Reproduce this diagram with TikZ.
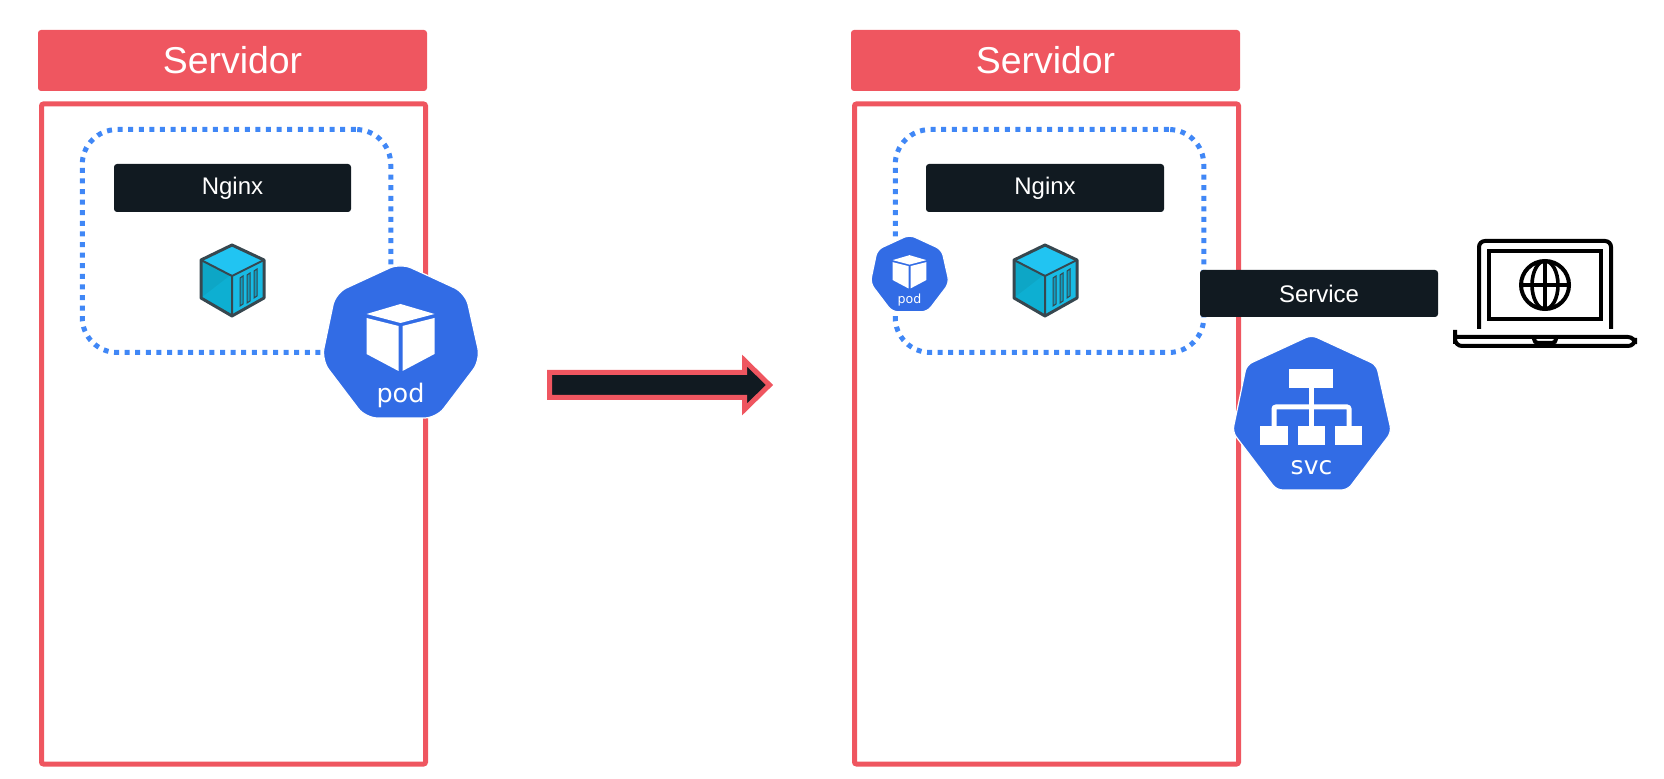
\documentclass[tikz,border=0pt]{standalone}
\usepackage{fontspec}
\setmainfont{Liberation Sans}
\newfontfamily\kubefont{DejaVu Sans}
\definecolor{svred}{HTML}{EF5660}
\definecolor{inkdark}{HTML}{111A21}
\definecolor{kubeblue}{HTML}{326CE5}
\definecolor{dotblue}{HTML}{4087F6}
\definecolor{cubeedge}{HTML}{37474F}
\definecolor{cubetop}{HTML}{21C4F2}
\definecolor{cubeleft}{HTML}{0DA6C6}
\definecolor{cubeleftb}{HTML}{0DAFD2}
\definecolor{cuberight}{HTML}{18BBE4}
\definecolor{cubestripe}{HTML}{109DC0}
\tikzset{
  header/.style={fill=svred,rounded corners=1.5pt,text=white,font=\fontsize{18.7pt}{22pt}\selectfont,inner sep=0pt},
  serverbox/.style={draw=svred,line width=2.5pt,rounded corners=1pt,inner sep=0pt},
  podzone/.style={draw=dotblue,line width=2.5pt,dash pattern=on 2.5pt off 2.8pt,rounded corners=17.5pt,inner sep=0pt},
  label/.style={fill=inkdark,rounded corners=1.5pt,text=white,font=\fontsize{12pt}{14pt}\selectfont,inner sep=0pt},
  iconline/.style={draw=black,line width=2pt},
  kubetext/.style={text=white,inner sep=0pt,font=\kubefont},
  cubeline/.style={draw=cubeedge,line width=1.5pt,line join=round},
}
% name, centre x, centre y, scale, corner radius
\newcommand{\kubehept}[5]{%
  \path[fill=kubeblue,draw=white,line width=.6pt,rounded corners=#5,shift={(#2,#3)},scale=#4]
    (0,-97) -- (65,-67) -- (80,0) -- (36,58) -- (-35,58) -- (-79,0) -- (-65,-67) -- cycle;
}
\newcommand{\podicon}[4]{%
  \kubehept{#1}{#2}{#3}{#4}{#4*6pt}
  \begin{scope}[shift={(#2,#3)},scale=#4]
    \fill[white] (0,-56) -- (34,-46) -- (0,-37) -- (-34,-46) -- cycle;
    \fill[white] (-34,-42) -- (-2,-34) -- (-2,11) -- (-34,-6) -- cycle;
    \fill[white] (34,-42) -- (2,-34) -- (2,11) -- (34,-6) -- cycle;
  \end{scope}
}
\newcommand{\cubeicon}[2]{%
  \begin{scope}[shift={(#1,#2)}]
    \fill[cubetop] (0,-31) -- (32,-16) -- (0,0) -- (-31,-16) -- cycle;
    \fill[cubeleft] (-31,-16) -- (0,0) -- (0,40) -- (-31,22) -- cycle;
    \fill[cubeleftb] (-31,22) -- (0,-2) -- (0,40) -- cycle;
    \fill[cuberight] (0,0) -- (32,-16) -- (32,22) -- (0,40) -- cycle;
    \foreach \sx/\st/\sb in {8/2/30,15/-1/27,22/-5/22}{
      \path[fill=cubestripe,draw=cubeedge,line width=.5pt]
        (\sx,\st) -- (\sx+3,\st-2) -- (\sx+3,\sb-2) -- (\sx,\sb) -- cycle;
    }
    \draw[cubeline] (0,-31) -- (32,-16) -- (32,22) -- (0,40) -- (-31,22) -- (-31,-16) -- cycle;
    \draw[draw=cubeedge,line width=1pt,line join=round] (-31,-16) -- (0,0) -- (32,-16) (0,0) -- (0,40);
  \end{scope}
}
\begin{document}
\begin{tikzpicture}[x=.5pt,y=-.5pt]
\useasboundingbox (0,0) rectangle (1664,779);
% left server
\node[header,minimum width=194.5pt,minimum height=30.5pt] (headA) at (232.5,60.5) {Servidor};
\node[serverbox,minimum width=192pt,minimum height=330pt] (boxA) at (233.5,434) {};
\node[podzone,minimum width=154.25pt,minimum height=111.5pt] (zoneA) at (236.5,241) {};
\node[label,minimum width=118.5pt,minimum height=24pt] (nginxA) at (232.5,188) {Nginx};
\cubeicon{232}{276}
\podicon{podA}{400.5}{360}{1}
\node[kubetext,font=\kubefont\fontsize{12.75pt}{15pt}\selectfont] (podtextA) at (400.5,395) {pod};
% arrow
\path[fill=inkdark,draw=svred,line width=2.5pt,miter limit=10]
  (549.5,372.5) -- (744.5,372.5) -- (744.5,360.5) -- (769.5,385) -- (744.5,409.5) -- (744.5,397.5) -- (549.5,397.5) -- cycle;
% right server
\node[header,minimum width=194.5pt,minimum height=30.5pt] (headB) at (1045.5,60.5) {Servidor};
\node[serverbox,minimum width=192pt,minimum height=330pt] (boxB) at (1046.5,434) {};
\node[podzone,minimum width=154.25pt,minimum height=111.5pt] (zoneB) at (1049.5,241) {};
\node[label,minimum width=119pt,minimum height=24pt] (nginxB) at (1045,188) {Nginx};
\cubeicon{1045}{276}
\podicon{podB}{909.5}{283}{.497}
\node[kubetext,font=\kubefont\fontsize{6.3pt}{8pt}\selectfont] (podtextB) at (909.5,300) {pod};
% service
\node[label,minimum width=119pt,minimum height=23.5pt] (svcLabel) at (1319,293.5) {Service};
\kubehept{svcHept}{1311.5}{432}{1}{3pt}
\fill[white] (1289,369) rectangle (1333,388);
\fill[white] (1260,426) rectangle (1288,445);
\fill[white] (1298,426) rectangle (1325,445);
\fill[white] (1335,426) rectangle (1362,445);
\draw[white,line width=2.5pt,rounded corners=1pt] (1274,426) -- (1274,407) -- (1349,407) -- (1349,426);
\draw[white,line width=2.5pt] (1311,388) -- (1311,426);
\node[kubetext,font=\kubefont\fontsize{12.5pt}{15pt}\selectfont] (svctext) at (1311.5,468) {svc};
% laptop
\draw[iconline,rounded corners=3pt] (1479,329) -- (1479,241) -- (1611,241) -- (1611,329);
\draw[iconline] (1489,251) rectangle (1601,319);
\draw[iconline] (1545,285) circle[radius=24];
\draw[draw=black,line width=1.8pt] (1545,285) ellipse[x radius=13,y radius=24];
\draw[draw=black,line width=1.8pt] (1545,261) -- (1545,309) (1521,285) -- (1569,285);
\draw[iconline,rounded corners=3.5pt] (1455,337) -- (1635,337) [sharp corners] -- (1635,338) [rounded corners=3.5pt] -- (1635,346) -- (1455,346) -- (1455,337) [sharp corners] -- cycle;
\draw[iconline,rounded corners=2pt] (1534,337) -- (1534,343) -- (1556,343) -- (1556,337);
\end{tikzpicture}
\end{document}
